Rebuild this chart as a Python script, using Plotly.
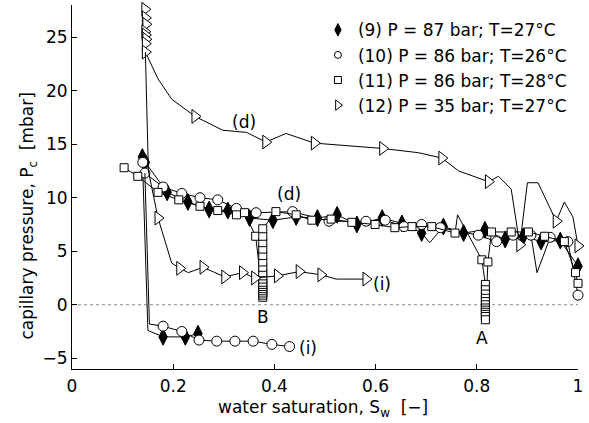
import plotly.graph_objects as go

# ---------------- data ----------------
# Series (9) P = 87 bar; T=27°C  (filled diamonds)
s9_dr_x = [0.139, 0.145, 0.188, 0.229, 0.271, 0.308, 0.351, 0.397, 0.443, 0.485, 0.524, 0.563, 0.613,
           0.652, 0.691, 0.707, 0.734, 0.774, 0.816, 0.856, 0.892, 0.927, 0.965, 1.000]
s9_dr_y = [13.8, 13.3, 10.5, 9.6, 8.9, 8.8, 8.1, 7.9, 8.2, 8.1, 8.4, 7.5, 8.1,
           7.6, 6.7, 5.8, 7.3, 6.7, 7.0, 6.1, 6.4, 5.9, 6.0, 3.6]
s9_dr_marked = [1, 1, 1, 1, 1, 1, 1, 1, 1, 1, 1, 1, 1, 1, 1, 0, 1, 1, 1, 1, 1, 1, 1, 1]
s9_im_x = [0.139, 0.150, 0.180, 0.224, 0.249]
s9_im_y = [13.8, -2.4, -3.0, -3.0, -2.7]
s9_im_marked = [0, 0, 1, 1, 1]

# Series (10) P = 86 bar; T=26°C  (open circles)
s10_dr_x = [0.140, 0.144, 0.180, 0.217, 0.253, 0.288, 0.325, 0.364, 0.436, 0.508, 0.581, 0.619,
            0.656, 0.691, 0.728, 0.803, 0.839, 0.872, 0.907, 0.919, 0.945, 0.980, 1.000]
s10_dr_y = [13.3, 12.3, 11.0, 10.4, 10.0, 9.8, 9.0, 8.6, 8.7, 7.8, 7.8, 7.9,
            7.3, 7.5, 7.2, 6.5, 5.9, 6.5, 6.5, 3.0, 6.3, 5.9, 0.9]
s10_dr_marked = [1, 1, 1, 1, 1, 1, 1, 1, 1, 1, 1, 1, 1, 1, 1, 1, 1, 1, 1, 0, 1, 1, 1]
s10_im_x = [0.144, 0.153, 0.180, 0.217, 0.251, 0.286, 0.322, 0.358, 0.395, 0.430]
s10_im_y = [12.3, -1.8, -2.0, -2.5, -3.3, -3.4, -3.4, -3.4, -3.7, -3.9]
s10_im_marked = [0, 0, 1, 1, 1, 1, 1, 1, 1, 1]

# Series (11) P = 86 bar; T=28°C  (open squares)
s11_x = [0.103, 0.130, 0.170, 0.211, 0.253, 0.288, 0.325, 0.341, 0.363,
         0.377, 0.377, 0.377, 0.377, 0.377, 0.377, 0.377, 0.377, 0.377, 0.377, 0.377, 0.377,
         0.377, 0.377, 0.377, 0.377, 0.377, 0.377,
         0.403, 0.443, 0.474, 0.512, 0.553, 0.599, 0.638, 0.672, 0.711, 0.757, 0.762, 0.810,
         0.817, 0.817, 0.817, 0.817, 0.817, 0.817, 0.817, 0.817, 0.817, 0.817, 0.817, 0.817,
         0.822, 0.829, 0.868, 0.902, 0.934, 0.973, 0.995, 1.000]
s11_y = [12.8, 12.0, 10.5, 9.8, 9.2, 8.8, 8.4, 8.6, 6.4,
         0.7, 0.9, 1.1, 1.3, 1.5, 1.7, 1.9, 2.1, 2.4, 2.7, 3.0, 3.5,
         4.0, 4.6, 5.2, 5.8, 6.4, 7.1,
         8.7, 8.4, 7.9, 8.0, 7.7, 7.5, 7.2, 7.3, 7.3, 6.7, 8.4, 4.2,
         1.9, 1.4, 1.0, 0.6, 0.3, 0.0, -0.3, -0.5, -0.7, -0.9, -1.1, -1.4,
         4.0, 6.8, 6.8, 6.8, 6.4, 5.9, 3.0, 2.0]
s11_marked = [1] * 37 + [0] + [1] * 21

# Series (12) P = 35 bar; T=27°C  (open right triangles)
s12_dr_x = [0.144, 0.145, 0.146, 0.144, 0.145, 0.146, 0.145, 0.145, 0.170, 0.197, 0.243, 0.298,
            0.345, 0.383, 0.423, 0.479, 0.614, 0.685, 0.731, 0.764, 0.823, 0.843, 0.868, 0.885,
            0.900, 0.921, 0.957, 0.973, 0.990, 1.000]
s12_dr_y = [27.6, 26.8, 26.2, 25.5, 25.2, 24.8, 24.4, 23.6, 21.1, 19.2, 17.6, 16.3,
            16.1, 15.2, 16.0, 15.1, 14.6, 14.2, 13.7, 12.5, 11.5, 12.0, 10.8, 5.6,
            11.4, 11.4, 7.8, 9.6, 8.2, 5.5]
s12_dr_marked = [1, 1, 1, 1, 1, 1, 1, 1, 0, 0, 1, 0, 0, 1, 0, 1, 1, 0, 1, 0, 1, 0, 0, 1,
                 0, 0, 1, 0, 0, 1]
s12_im_x = [0.145, 0.151, 0.170, 0.197, 0.213, 0.230, 0.259, 0.302, 0.337, 0.361, 0.406,
            0.449, 0.492, 0.522, 0.581]
s12_im_y = [23.6, 12.5, 8.1, 3.9, 3.4, 3.0, 3.5, 2.6, 3.0, 2.5, 2.7, 3.1, 2.8, 2.4, 2.4]
s12_im_marked = [0, 0, 1, 0, 1, 0, 1, 1, 1, 1, 1, 1, 1, 0, 1]

legend_labels = ["(9) P = 87 bar; T=27°C", "(10) P = 86 bar; T=26°C",
                 "(11) P = 86 bar; T=28°C", "(12) P = 35 bar; T=27°C"]

x_ticks = [0, 0.2, 0.4, 0.6, 0.8, 1]
x_tick_labels = ["0", "0.2", "0.4", "0.6", "0.8", "1"]
y_ticks = [-5, 0, 5, 10, 15, 20, 25]

# labels on the curves: (text, Sw, Pc)
curve_labels = [("(d)", 0.339, 17.1), ("(d)", 0.428, 10.3), ("(i)", 0.613, 1.9),
                ("(i)", 0.467, -4.0), ("B", 0.377, -1.1), ("A", 0.811, -3.1)]

# ---------------- figure ----------------
FONT = "DejaVu Sans"
FS = 17
fig = go.Figure()


def add_series(xs, ys, marked, symbol, size, fill):
    fig.add_trace(go.Scatter(x=xs, y=ys, mode="lines", line=dict(color="black", width=1),
                             showlegend=False, hoverinfo="skip", cliponaxis=False))
    mx = [x for x, m in zip(xs, marked) if m]
    my = [y for y, m in zip(ys, marked) if m]
    fig.add_trace(go.Scatter(x=mx, y=my, mode="markers", showlegend=False, cliponaxis=False,
                             marker=dict(symbol=symbol, size=size, color=fill,
                                         line=dict(color="black", width=1))))


add_series(s9_dr_x, s9_dr_y, s9_dr_marked, "diamond-tall", 12, "black")
add_series(s9_im_x, s9_im_y, s9_im_marked, "diamond-tall", 12, "black")
add_series(s10_dr_x, s10_dr_y, s10_dr_marked, "circle", 10, "white")
add_series(s10_im_x, s10_im_y, s10_im_marked, "circle", 10, "white")
add_series(s11_x, s11_y, s11_marked, "square", 8, "white")
add_series(s12_dr_x, s12_dr_y, s12_dr_marked, "triangle-right", 12, "white")
add_series(s12_im_x, s12_im_y, s12_im_marked, "triangle-right", 12, "white")

legend_styles = [("diamond-tall", 9, "black"), ("circle", 7, "white"),
                 ("square", 7, "white"), ("triangle-right", 9, "white")]
for lab, (sym, sz, fill) in zip(legend_labels, legend_styles):
    fig.add_trace(go.Scatter(x=[None], y=[None], mode="markers", name=lab,
                             marker=dict(symbol=sym, size=sz, color=fill,
                                         line=dict(color="black", width=1))))

for txt, xv, yv in curve_labels:
    fig.add_annotation(x=xv, y=yv, text=txt, showarrow=False,
                       font=dict(family=FONT, size=FS, color="black"))

# axis titles
fig.add_annotation(xref="paper", yref="paper", x=-0.086, y=0.42, textangle=-90,
                   xanchor="center", yanchor="middle",
                   text="capillary pressure, P<sub>c</sub>\u00a0\u00a0[mbar]", showarrow=False,
                   font=dict(family=FONT, size=FS, color="black"))
fig.add_annotation(xref="paper", yref="paper", x=0.496, y=-0.074, xanchor="center", yanchor="top",
                   borderpad=0,
                   text="water saturation, S<sub>w</sub>\u00a0\u00a0[\u2212]", showarrow=False,
                   font=dict(family=FONT, size=FS, color="black"))

# dotted zero line
fig.add_shape(type="line", xref="paper", yref="y", x0=0, x1=1, y0=0, y1=0, layer="below",
              line=dict(color="#888888", width=1, dash="dot"))

fig.update_layout(
    width=589, height=423,
    margin=dict(l=71.6, r=9, t=5.4, b=53.8),
    paper_bgcolor="white", plot_bgcolor="white",
    font=dict(family=FONT, size=FS, color="black"),
    legend=dict(x=0.486, y=0.98, xanchor="left", yanchor="top", bgcolor="rgba(0,0,0,0)",
                borderwidth=0, font=dict(family=FONT, size=FS, color="black"),
                itemwidth=30),
)
fig.update_xaxes(range=[0, 1], tickvals=x_ticks, ticktext=x_tick_labels, showgrid=False,
                 zeroline=False, showline=True, linecolor="black", linewidth=1,
                 ticks="inside", ticklen=5, tickcolor="black", mirror=False,
                 ticklabelstandoff=2)
fig.update_yaxes(range=[-6, 28], tickvals=y_ticks, showgrid=False, zeroline=False,
                 showline=True, linecolor="black", linewidth=1,
                 ticks="inside", ticklen=5, tickcolor="black", mirror=False)

fig.write_html("out.html", config={"displayModeBar": False},
               post_script="document.body.style.margin='0px';")
